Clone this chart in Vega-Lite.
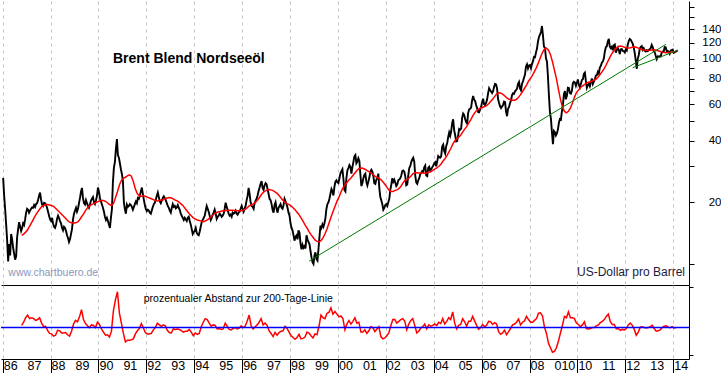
{
"$schema":"https://vega.github.io/schema/vega-lite/v6.json",
"padding":0,
"autosize":{"type":"pad"},
"background":"white",
"spacing":0,
"bounds":"flush",
"config":{"view":{"stroke":null},"font":"Liberation Sans","axis":{"labelFont":"Liberation Sans"}},
"resolve":{"scale":{"x":"independent","y":"independent"}},
"datasets":{
"price":[
{"t":1986.02,"v":26.3},{"t":1986.062,"v":21.5},{"t":1986.103,"v":18.5},{"t":1986.145,"v":15.6},{"t":1986.187,"v":13.0},{"t":1986.229,"v":10.3},{"t":1986.27,"v":12.5},{"t":1986.312,"v":11.0},{"t":1986.353,"v":14.0},{"t":1986.395,"v":13.2},{"t":1986.437,"v":12.0},{"t":1986.479,"v":11.2},{"t":1986.52,"v":10.5},{"t":1986.562,"v":10.9},{"t":1986.603,"v":13.5},{"t":1986.645,"v":14.8},{"t":1986.687,"v":16.0},{"t":1986.729,"v":15.2},{"t":1986.77,"v":14.5},{"t":1986.812,"v":15.0},{"t":1986.853,"v":15.8},{"t":1986.895,"v":15.5},{"t":1986.937,"v":16.5},{"t":1986.979,"v":17.8},
{"t":1987.02,"v":18.6},{"t":1987.062,"v":18.4},{"t":1987.103,"v":17.8},{"t":1987.145,"v":18.2},{"t":1987.187,"v":18.6},{"t":1987.229,"v":18.9},{"t":1987.27,"v":18.8},{"t":1987.312,"v":19.4},{"t":1987.353,"v":19.0},{"t":1987.395,"v":19.6},{"t":1987.437,"v":19.8},{"t":1987.479,"v":20.6},{"t":1987.52,"v":21.5},{"t":1987.562,"v":22.3},{"t":1987.603,"v":20.6},{"t":1987.645,"v":19.5},{"t":1987.687,"v":19.2},{"t":1987.729,"v":19.9},{"t":1987.77,"v":19.8},{"t":1987.812,"v":19.4},{"t":1987.853,"v":18.8},{"t":1987.895,"v":18.0},{"t":1987.937,"v":17.2},{"t":1987.979,"v":16.5},
{"t":1988.02,"v":16.2},{"t":1988.062,"v":16.8},{"t":1988.103,"v":15.8},{"t":1988.145,"v":15.2},{"t":1988.187,"v":15.0},{"t":1988.229,"v":15.6},{"t":1988.27,"v":16.6},{"t":1988.312,"v":17.2},{"t":1988.353,"v":16.8},{"t":1988.395,"v":16.2},{"t":1988.437,"v":15.8},{"t":1988.479,"v":15.0},{"t":1988.52,"v":14.6},{"t":1988.562,"v":15.2},{"t":1988.603,"v":15.0},{"t":1988.645,"v":14.5},{"t":1988.687,"v":13.8},{"t":1988.729,"v":13.4},{"t":1988.77,"v":12.8},{"t":1988.812,"v":13.2},{"t":1988.853,"v":14.0},{"t":1988.895,"v":14.8},{"t":1988.937,"v":16.5},{"t":1988.979,"v":17.6},
{"t":1989.02,"v":18.2},{"t":1989.062,"v":18.8},{"t":1989.103,"v":18.0},{"t":1989.145,"v":18.6},{"t":1989.187,"v":19.8},{"t":1989.229,"v":21.0},{"t":1989.27,"v":22.5},{"t":1989.312,"v":23.5},{"t":1989.353,"v":21.0},{"t":1989.395,"v":19.8},{"t":1989.437,"v":19.5},{"t":1989.479,"v":20.5},{"t":1989.52,"v":19.8},{"t":1989.562,"v":19.2},{"t":1989.603,"v":18.8},{"t":1989.645,"v":19.5},{"t":1989.687,"v":20.4},{"t":1989.729,"v":20.8},{"t":1989.77,"v":21.2},{"t":1989.812,"v":20.0},{"t":1989.853,"v":19.6},{"t":1989.895,"v":20.4},{"t":1989.937,"v":21.5},{"t":1989.979,"v":23.6},
{"t":1990.02,"v":22.5},{"t":1990.062,"v":21.0},{"t":1990.103,"v":20.2},{"t":1990.145,"v":19.5},{"t":1990.187,"v":18.8},{"t":1990.229,"v":18.0},{"t":1990.27,"v":17.0},{"t":1990.312,"v":16.4},{"t":1990.353,"v":16.8},{"t":1990.395,"v":16.2},{"t":1990.437,"v":15.6},{"t":1990.479,"v":15.0},{"t":1990.52,"v":16.8},{"t":1990.562,"v":18.5},{"t":1990.603,"v":25.0},{"t":1990.645,"v":29.5},{"t":1990.687,"v":31.5},{"t":1990.729,"v":36.5},{"t":1990.77,"v":40.7},{"t":1990.812,"v":34.0},{"t":1990.853,"v":33.0},{"t":1990.895,"v":31.0},{"t":1990.937,"v":29.0},{"t":1990.979,"v":27.5},
{"t":1991.02,"v":25.5},{"t":1991.062,"v":20.0},{"t":1991.103,"v":18.5},{"t":1991.145,"v":17.6},{"t":1991.187,"v":19.5},{"t":1991.229,"v":19.0},{"t":1991.27,"v":19.2},{"t":1991.312,"v":19.6},{"t":1991.353,"v":19.4},{"t":1991.395,"v":19.0},{"t":1991.437,"v":18.4},{"t":1991.479,"v":19.0},{"t":1991.52,"v":19.6},{"t":1991.562,"v":20.2},{"t":1991.603,"v":19.8},{"t":1991.645,"v":21.0},{"t":1991.687,"v":20.8},{"t":1991.729,"v":21.5},{"t":1991.77,"v":22.6},{"t":1991.812,"v":23.6},{"t":1991.853,"v":22.0},{"t":1991.895,"v":20.6},{"t":1991.937,"v":19.4},{"t":1991.979,"v":18.5},
{"t":1992.02,"v":18.1},{"t":1992.062,"v":18.4},{"t":1992.103,"v":18.2},{"t":1992.145,"v":17.8},{"t":1992.187,"v":17.6},{"t":1992.229,"v":18.3},{"t":1992.27,"v":19.0},{"t":1992.312,"v":19.6},{"t":1992.353,"v":19.9},{"t":1992.395,"v":20.6},{"t":1992.437,"v":21.5},{"t":1992.479,"v":22.3},{"t":1992.52,"v":21.2},{"t":1992.562,"v":20.2},{"t":1992.603,"v":19.8},{"t":1992.645,"v":20.4},{"t":1992.687,"v":21.0},{"t":1992.729,"v":21.4},{"t":1992.77,"v":21.0},{"t":1992.812,"v":20.5},{"t":1992.853,"v":19.8},{"t":1992.895,"v":19.2},{"t":1992.937,"v":18.8},{"t":1992.979,"v":18.2},
{"t":1993.02,"v":17.8},{"t":1993.062,"v":18.8},{"t":1993.103,"v":19.6},{"t":1993.145,"v":19.0},{"t":1993.187,"v":19.2},{"t":1993.229,"v":18.7},{"t":1993.27,"v":18.9},{"t":1993.312,"v":19.4},{"t":1993.353,"v":18.8},{"t":1993.395,"v":18.4},{"t":1993.437,"v":17.6},{"t":1993.479,"v":17.2},{"t":1993.52,"v":16.8},{"t":1993.562,"v":16.4},{"t":1993.603,"v":16.8},{"t":1993.645,"v":16.5},{"t":1993.687,"v":16.2},{"t":1993.729,"v":16.8},{"t":1993.77,"v":17.0},{"t":1993.812,"v":16.2},{"t":1993.853,"v":15.6},{"t":1993.895,"v":14.8},{"t":1993.937,"v":14.0},{"t":1993.979,"v":14.3},
{"t":1994.02,"v":14.5},{"t":1994.062,"v":15.0},{"t":1994.103,"v":14.2},{"t":1994.145,"v":13.9},{"t":1994.187,"v":13.8},{"t":1994.229,"v":14.4},{"t":1994.27,"v":15.2},{"t":1994.312,"v":16.0},{"t":1994.353,"v":16.4},{"t":1994.395,"v":16.8},{"t":1994.437,"v":17.2},{"t":1994.479,"v":18.2},{"t":1994.52,"v":19.2},{"t":1994.562,"v":18.6},{"t":1994.603,"v":18.0},{"t":1994.645,"v":17.2},{"t":1994.687,"v":16.4},{"t":1994.729,"v":16.8},{"t":1994.77,"v":17.4},{"t":1994.812,"v":17.8},{"t":1994.853,"v":18.4},{"t":1994.895,"v":17.6},{"t":1994.937,"v":16.6},{"t":1994.979,"v":17.0},
{"t":1995.02,"v":17.2},{"t":1995.062,"v":17.6},{"t":1995.103,"v":17.4},{"t":1995.145,"v":17.0},{"t":1995.187,"v":17.2},{"t":1995.229,"v":17.6},{"t":1995.27,"v":18.6},{"t":1995.312,"v":19.9},{"t":1995.353,"v":19.0},{"t":1995.395,"v":18.4},{"t":1995.437,"v":17.6},{"t":1995.479,"v":17.2},{"t":1995.52,"v":17.4},{"t":1995.562,"v":17.0},{"t":1995.603,"v":17.8},{"t":1995.645,"v":17.6},{"t":1995.687,"v":17.8},{"t":1995.729,"v":18.2},{"t":1995.77,"v":17.6},{"t":1995.812,"v":17.4},{"t":1995.853,"v":17.8},{"t":1995.895,"v":18.0},{"t":1995.937,"v":18.6},{"t":1995.979,"v":19.2},
{"t":1996.02,"v":18.6},{"t":1996.062,"v":18.0},{"t":1996.103,"v":18.6},{"t":1996.145,"v":19.2},{"t":1996.187,"v":20.5},{"t":1996.229,"v":21.5},{"t":1996.27,"v":23.5},{"t":1996.312,"v":22.0},{"t":1996.353,"v":20.0},{"t":1996.395,"v":19.2},{"t":1996.437,"v":19.0},{"t":1996.479,"v":18.6},{"t":1996.52,"v":19.8},{"t":1996.562,"v":20.4},{"t":1996.603,"v":20.8},{"t":1996.645,"v":21.6},{"t":1996.687,"v":22.7},{"t":1996.729,"v":23.6},{"t":1996.77,"v":24.6},{"t":1996.812,"v":25.4},{"t":1996.853,"v":23.5},{"t":1996.895,"v":23.0},{"t":1996.937,"v":24.2},{"t":1996.979,"v":24.8},
{"t":1997.02,"v":24.5},{"t":1997.062,"v":23.2},{"t":1997.103,"v":22.0},{"t":1997.145,"v":20.8},{"t":1997.187,"v":20.5},{"t":1997.229,"v":19.6},{"t":1997.27,"v":18.4},{"t":1997.312,"v":17.8},{"t":1997.353,"v":19.4},{"t":1997.395,"v":20.0},{"t":1997.437,"v":18.6},{"t":1997.479,"v":17.8},{"t":1997.52,"v":18.8},{"t":1997.562,"v":19.2},{"t":1997.603,"v":19.6},{"t":1997.645,"v":18.8},{"t":1997.687,"v":18.6},{"t":1997.729,"v":19.4},{"t":1997.77,"v":20.8},{"t":1997.812,"v":20.2},{"t":1997.853,"v":19.6},{"t":1997.895,"v":18.8},{"t":1997.937,"v":17.8},{"t":1997.979,"v":17.2},
{"t":1998.02,"v":15.8},{"t":1998.062,"v":15.0},{"t":1998.103,"v":14.6},{"t":1998.145,"v":13.8},{"t":1998.187,"v":13.0},{"t":1998.229,"v":13.6},{"t":1998.27,"v":13.8},{"t":1998.312,"v":13.2},{"t":1998.353,"v":14.6},{"t":1998.395,"v":14.2},{"t":1998.437,"v":12.6},{"t":1998.479,"v":11.8},{"t":1998.52,"v":12.4},{"t":1998.562,"v":12.0},{"t":1998.603,"v":12.2},{"t":1998.645,"v":11.9},{"t":1998.687,"v":13.8},{"t":1998.729,"v":13.2},{"t":1998.77,"v":12.8},{"t":1998.812,"v":12.5},{"t":1998.853,"v":11.6},{"t":1998.895,"v":10.8},{"t":1998.937,"v":10.2},{"t":1998.979,"v":10.0},
{"t":1999.02,"v":11.0},{"t":1999.062,"v":11.4},{"t":1999.103,"v":10.6},{"t":1999.145,"v":10.4},{"t":1999.187,"v":11.8},{"t":1999.229,"v":13.6},{"t":1999.27,"v":15.4},{"t":1999.312,"v":15.0},{"t":1999.353,"v":15.6},{"t":1999.395,"v":15.2},{"t":1999.437,"v":15.8},{"t":1999.479,"v":16.8},{"t":1999.52,"v":18.6},{"t":1999.562,"v":19.6},{"t":1999.603,"v":20.0},{"t":1999.645,"v":20.8},{"t":1999.687,"v":22.0},{"t":1999.729,"v":23.2},{"t":1999.77,"v":22.6},{"t":1999.812,"v":21.6},{"t":1999.853,"v":23.8},{"t":1999.895,"v":25.2},{"t":1999.937,"v":25.6},{"t":1999.979,"v":25.0},
{"t":2000.02,"v":24.8},{"t":2000.062,"v":26.2},{"t":2000.103,"v":27.6},{"t":2000.145,"v":28.4},{"t":2000.187,"v":29.0},{"t":2000.229,"v":26.0},{"t":2000.27,"v":23.0},{"t":2000.312,"v":22.6},{"t":2000.353,"v":26.2},{"t":2000.395,"v":28.6},{"t":2000.437,"v":29.4},{"t":2000.479,"v":30.4},{"t":2000.52,"v":29.8},{"t":2000.562,"v":27.6},{"t":2000.603,"v":29.6},{"t":2000.645,"v":31.4},{"t":2000.687,"v":33.5},{"t":2000.729,"v":34.0},{"t":2000.77,"v":31.0},{"t":2000.812,"v":31.6},{"t":2000.853,"v":32.8},{"t":2000.895,"v":31.8},{"t":2000.937,"v":27.4},{"t":2000.979,"v":24.0},
{"t":2001.02,"v":24.8},{"t":2001.062,"v":26.2},{"t":2001.103,"v":27.2},{"t":2001.145,"v":27.6},{"t":2001.187,"v":25.2},{"t":2001.229,"v":24.2},{"t":2001.27,"v":25.2},{"t":2001.312,"v":26.4},{"t":2001.353,"v":28.2},{"t":2001.395,"v":28.8},{"t":2001.437,"v":28.2},{"t":2001.479,"v":26.8},{"t":2001.52,"v":24.8},{"t":2001.562,"v":24.6},{"t":2001.603,"v":25.8},{"t":2001.645,"v":26.2},{"t":2001.687,"v":27.6},{"t":2001.729,"v":23.4},{"t":2001.77,"v":21.2},{"t":2001.812,"v":20.4},{"t":2001.853,"v":19.6},{"t":2001.895,"v":18.4},{"t":2001.937,"v":18.8},{"t":2001.979,"v":19.4},
{"t":2002.02,"v":19.6},{"t":2002.062,"v":19.2},{"t":2002.103,"v":20.0},{"t":2002.145,"v":20.8},{"t":2002.187,"v":23.0},{"t":2002.229,"v":24.4},{"t":2002.27,"v":26.2},{"t":2002.312,"v":25.2},{"t":2002.353,"v":25.8},{"t":2002.395,"v":25.0},{"t":2002.437,"v":24.0},{"t":2002.479,"v":24.4},{"t":2002.52,"v":25.6},{"t":2002.562,"v":25.8},{"t":2002.603,"v":26.2},{"t":2002.645,"v":27.0},{"t":2002.687,"v":28.4},{"t":2002.729,"v":28.6},{"t":2002.77,"v":28.2},{"t":2002.812,"v":26.8},{"t":2002.853,"v":24.2},{"t":2002.895,"v":24.4},{"t":2002.937,"v":27.0},{"t":2002.979,"v":29.4},
{"t":2003.02,"v":30.0},{"t":2003.062,"v":31.4},{"t":2003.103,"v":32.4},{"t":2003.145,"v":33.0},{"t":2003.187,"v":31.6},{"t":2003.229,"v":27.0},{"t":2003.27,"v":25.0},{"t":2003.312,"v":24.6},{"t":2003.353,"v":25.6},{"t":2003.395,"v":26.2},{"t":2003.437,"v":27.4},{"t":2003.479,"v":27.8},{"t":2003.52,"v":28.4},{"t":2003.562,"v":28.2},{"t":2003.603,"v":29.6},{"t":2003.645,"v":30.2},{"t":2003.687,"v":27.0},{"t":2003.729,"v":26.8},{"t":2003.77,"v":29.4},{"t":2003.812,"v":29.8},{"t":2003.853,"v":28.6},{"t":2003.895,"v":29.0},{"t":2003.937,"v":29.6},{"t":2003.979,"v":30.2},
{"t":2004.02,"v":31.0},{"t":2004.062,"v":31.4},{"t":2004.103,"v":30.0},{"t":2004.145,"v":31.6},{"t":2004.187,"v":33.6},{"t":2004.229,"v":33.2},{"t":2004.27,"v":33.0},{"t":2004.312,"v":33.6},{"t":2004.353,"v":37.4},{"t":2004.395,"v":38.2},{"t":2004.437,"v":35.6},{"t":2004.479,"v":34.6},{"t":2004.52,"v":37.6},{"t":2004.562,"v":38.8},{"t":2004.603,"v":41.6},{"t":2004.645,"v":43.8},{"t":2004.687,"v":42.2},{"t":2004.729,"v":44.4},{"t":2004.77,"v":48.6},{"t":2004.812,"v":50.8},{"t":2004.853,"v":45.0},{"t":2004.895,"v":42.6},{"t":2004.937,"v":39.6},{"t":2004.979,"v":39.8},
{"t":2005.02,"v":42.4},{"t":2005.062,"v":45.6},{"t":2005.103,"v":45.2},{"t":2005.145,"v":45.8},{"t":2005.187,"v":51.6},{"t":2005.229,"v":54.2},{"t":2005.27,"v":53.4},{"t":2005.312,"v":51.0},{"t":2005.353,"v":49.2},{"t":2005.395,"v":48.4},{"t":2005.437,"v":54.4},{"t":2005.479,"v":56.8},{"t":2005.52,"v":57.2},{"t":2005.562,"v":58.0},{"t":2005.603,"v":62.8},{"t":2005.645,"v":66.0},{"t":2005.687,"v":63.2},{"t":2005.729,"v":62.4},{"t":2005.77,"v":59.6},{"t":2005.812,"v":57.6},{"t":2005.853,"v":55.2},{"t":2005.895,"v":55.0},{"t":2005.937,"v":56.6},{"t":2005.979,"v":58.4},
{"t":2006.02,"v":61.6},{"t":2006.062,"v":64.0},{"t":2006.103,"v":60.2},{"t":2006.145,"v":59.6},{"t":2006.187,"v":61.0},{"t":2006.229,"v":63.4},{"t":2006.27,"v":68.0},{"t":2006.312,"v":72.0},{"t":2006.353,"v":70.6},{"t":2006.395,"v":69.4},{"t":2006.437,"v":68.2},{"t":2006.479,"v":69.6},{"t":2006.52,"v":73.0},{"t":2006.562,"v":75.6},{"t":2006.603,"v":75.2},{"t":2006.645,"v":71.8},{"t":2006.687,"v":63.8},{"t":2006.729,"v":61.0},{"t":2006.77,"v":58.8},{"t":2006.812,"v":57.6},{"t":2006.853,"v":58.6},{"t":2006.895,"v":59.6},{"t":2006.937,"v":62.0},{"t":2006.979,"v":61.6},
{"t":2007.02,"v":55.4},{"t":2007.062,"v":52.6},{"t":2007.103,"v":57.2},{"t":2007.145,"v":58.4},{"t":2007.187,"v":61.0},{"t":2007.229,"v":62.8},{"t":2007.27,"v":66.6},{"t":2007.312,"v":68.0},{"t":2007.353,"v":67.6},{"t":2007.395,"v":69.6},{"t":2007.437,"v":70.4},{"t":2007.479,"v":71.6},{"t":2007.52,"v":75.6},{"t":2007.562,"v":77.2},{"t":2007.603,"v":71.8},{"t":2007.645,"v":70.2},{"t":2007.687,"v":75.8},{"t":2007.729,"v":78.0},{"t":2007.77,"v":81.0},{"t":2007.812,"v":84.0},{"t":2007.853,"v":92.0},{"t":2007.895,"v":94.2},{"t":2007.937,"v":90.0},{"t":2007.979,"v":93.0},
{"t":2008.02,"v":93.4},{"t":2008.062,"v":90.0},{"t":2008.103,"v":94.4},{"t":2008.145,"v":97.6},{"t":2008.187,"v":102.4},{"t":2008.229,"v":102.0},{"t":2008.27,"v":107.4},{"t":2008.312,"v":112.4},{"t":2008.353,"v":121.6},{"t":2008.395,"v":128.0},{"t":2008.437,"v":131.6},{"t":2008.479,"v":135.4},{"t":2008.52,"v":144.8},{"t":2008.562,"v":130.0},{"t":2008.603,"v":115.0},{"t":2008.645,"v":113.4},{"t":2008.687,"v":101.0},{"t":2008.729,"v":97.0},{"t":2008.77,"v":82.0},{"t":2008.812,"v":66.0},{"t":2008.853,"v":55.0},{"t":2008.895,"v":51.0},{"t":2008.937,"v":44.0},{"t":2008.979,"v":38.4},
{"t":2009.02,"v":44.6},{"t":2009.062,"v":44.0},{"t":2009.103,"v":42.4},{"t":2009.145,"v":43.4},{"t":2009.187,"v":45.4},{"t":2009.229,"v":49.0},{"t":2009.27,"v":51.0},{"t":2009.312,"v":50.6},{"t":2009.353,"v":55.6},{"t":2009.395,"v":59.6},{"t":2009.437,"v":67.6},{"t":2009.479,"v":69.8},{"t":2009.52,"v":63.6},{"t":2009.562,"v":66.4},{"t":2009.603,"v":72.4},{"t":2009.645,"v":72.2},{"t":2009.687,"v":68.2},{"t":2009.729,"v":67.8},{"t":2009.77,"v":70.0},{"t":2009.812,"v":76.2},{"t":2009.853,"v":77.4},{"t":2009.895,"v":76.8},{"t":2009.937,"v":74.0},{"t":2009.979,"v":76.6},
{"t":2010.02,"v":79.4},{"t":2010.062,"v":74.8},{"t":2010.103,"v":72.6},{"t":2010.145,"v":75.6},{"t":2010.187,"v":79.0},{"t":2010.229,"v":79.6},{"t":2010.27,"v":84.6},{"t":2010.312,"v":85.8},{"t":2010.353,"v":78.2},{"t":2010.395,"v":72.4},{"t":2010.437,"v":74.6},{"t":2010.479,"v":75.8},{"t":2010.52,"v":73.6},{"t":2010.562,"v":77.0},{"t":2010.603,"v":80.4},{"t":2010.645,"v":75.6},{"t":2010.687,"v":77.6},{"t":2010.729,"v":79.8},{"t":2010.77,"v":83.0},{"t":2010.812,"v":83.4},{"t":2010.853,"v":86.6},{"t":2010.895,"v":85.0},{"t":2010.937,"v":90.8},{"t":2010.979,"v":92.6},
{"t":2011.02,"v":96.0},{"t":2011.062,"v":97.2},{"t":2011.103,"v":100.4},{"t":2011.145,"v":108.6},{"t":2011.187,"v":114.0},{"t":2011.229,"v":115.4},{"t":2011.27,"v":121.6},{"t":2011.312,"v":125.4},{"t":2011.353,"v":115.0},{"t":2011.395,"v":112.8},{"t":2011.437,"v":114.8},{"t":2011.479,"v":110.2},{"t":2011.52,"v":116.6},{"t":2011.562,"v":117.6},{"t":2011.603,"v":107.4},{"t":2011.645,"v":110.8},{"t":2011.687,"v":113.4},{"t":2011.729,"v":110.2},{"t":2011.77,"v":105.6},{"t":2011.812,"v":111.6},{"t":2011.853,"v":111.8},{"t":2011.895,"v":109.4},{"t":2011.937,"v":109.2},{"t":2011.979,"v":107.6},
{"t":2012.02,"v":111.2},{"t":2012.062,"v":110.0},{"t":2012.103,"v":117.4},{"t":2012.145,"v":122.6},{"t":2012.187,"v":125.2},{"t":2012.229,"v":124.0},{"t":2012.27,"v":121.2},{"t":2012.312,"v":118.4},{"t":2012.353,"v":113.4},{"t":2012.395,"v":106.8},{"t":2012.437,"v":98.2},{"t":2012.479,"v":89.6},{"t":2012.52,"v":100.2},{"t":2012.562,"v":104.6},{"t":2012.603,"v":112.0},{"t":2012.645,"v":114.6},{"t":2012.687,"v":115.6},{"t":2012.729,"v":111.0},{"t":2012.77,"v":112.8},{"t":2012.812,"v":109.6},{"t":2012.853,"v":108.8},{"t":2012.895,"v":110.4},{"t":2012.937,"v":109.2},{"t":2012.979,"v":110.6},
{"t":2013.02,"v":111.6},{"t":2013.062,"v":113.0},{"t":2013.103,"v":117.2},{"t":2013.145,"v":114.4},{"t":2013.187,"v":109.2},{"t":2013.229,"v":108.0},{"t":2013.27,"v":103.6},{"t":2013.312,"v":100.0},{"t":2013.353,"v":103.0},{"t":2013.395,"v":102.6},{"t":2013.437,"v":103.2},{"t":2013.479,"v":103.0},{"t":2013.52,"v":107.2},{"t":2013.562,"v":108.6},{"t":2013.603,"v":108.8},{"t":2013.645,"v":114.2},{"t":2013.687,"v":114.0},{"t":2013.729,"v":109.0},{"t":2013.77,"v":109.6},{"t":2013.812,"v":108.4},{"t":2013.853,"v":106.0},{"t":2013.895,"v":109.8},{"t":2013.937,"v":110.6},{"t":2013.979,"v":111.2},
{"t":2014.02,"v":107.2},{"t":2014.062,"v":107.8},{"t":2014.103,"v":108.4},{"t":2014.145,"v":109.4},{"t":2014.187,"v":110.2}
],
"monthly":[
{"t":1986.792,"m":13.8,"d":5},{"t":1986.875,"m":14.0,"d":12},{"t":1986.958,"m":14.3,"d":22},
{"t":1987.042,"m":14.7,"d":28},{"t":1987.125,"m":15.3,"d":20},{"t":1987.208,"m":15.9,"d":22},{"t":1987.292,"m":16.6,"d":20},{"t":1987.375,"m":17.3,"d":16},{"t":1987.458,"m":17.9,"d":18},{"t":1987.542,"m":18.5,"d":22},{"t":1987.625,"m":19.0,"d":10},{"t":1987.708,"m":19.3,"d":2},{"t":1987.792,"m":19.5,"d":3},{"t":1987.875,"m":19.5,"d":-6},{"t":1987.958,"m":19.4,"d":-13},
{"t":1988.042,"m":19.3,"d":-14},{"t":1988.125,"m":19.1,"d":-19},{"t":1988.208,"m":18.7,"d":-17},{"t":1988.292,"m":18.3,"d":-6},{"t":1988.375,"m":17.9,"d":-7},{"t":1988.458,"m":17.5,"d":-12},{"t":1988.542,"m":17.1,"d":-12},{"t":1988.625,"m":16.7,"d":-11},{"t":1988.708,"m":16.3,"d":-16},{"t":1988.792,"m":16.0,"d":-19},{"t":1988.875,"m":15.9,"d":-8},{"t":1988.958,"m":15.8,"d":8},
{"t":1989.042,"m":15.9,"d":16},{"t":1989.125,"m":16.0,"d":13},{"t":1989.208,"m":16.4,"d":24},{"t":1989.292,"m":17.0,"d":40},{"t":1989.375,"m":17.5,"d":18},{"t":1989.458,"m":18.2,"d":9},{"t":1989.542,"m":18.8,"d":4},{"t":1989.625,"m":19.2,"d":0},{"t":1989.708,"m":19.5,"d":6},{"t":1989.792,"m":19.7,"d":5},{"t":1989.875,"m":19.9,"d":0},{"t":1989.958,"m":20.1,"d":12},
{"t":1990.042,"m":20.3,"d":7},{"t":1990.125,"m":20.4,"d":-3},{"t":1990.208,"m":20.4,"d":-10},{"t":1990.292,"m":20.2,"d":-17},{"t":1990.375,"m":19.9,"d":-16},{"t":1990.458,"m":19.5,"d":-21},{"t":1990.542,"m":19.3,"d":-8},{"t":1990.625,"m":19.7,"d":38},{"t":1990.708,"m":21.0,"d":62},{"t":1990.792,"m":22.5,"d":80},{"t":1990.875,"m":24.3,"d":32},{"t":1990.958,"m":25.6,"d":10},
{"t":1991.042,"m":26.2,"d":-13},{"t":1991.125,"m":26.5,"d":-32},{"t":1991.208,"m":26.9,"d":-28},{"t":1991.292,"m":27.2,"d":-28},{"t":1991.375,"m":26.8,"d":-27},{"t":1991.458,"m":25.2,"d":-25},{"t":1991.542,"m":23.2,"d":-14},{"t":1991.625,"m":22.0,"d":-7},{"t":1991.708,"m":21.5,"d":-2},{"t":1991.792,"m":21.4,"d":9},{"t":1991.875,"m":21.5,"d":-1},{"t":1991.958,"m":21.4,"d":-11},
{"t":1992.042,"m":21.2,"d":-14},{"t":1992.125,"m":21.0,"d":-14},{"t":1992.208,"m":20.8,"d":-13},{"t":1992.292,"m":20.6,"d":-5},{"t":1992.375,"m":20.4,"d":0},{"t":1992.458,"m":20.3,"d":10},{"t":1992.542,"m":20.4,"d":6},{"t":1992.625,"m":20.5,"d":3},{"t":1992.708,"m":20.6,"d":6},{"t":1992.792,"m":20.8,"d":4},{"t":1992.875,"m":21.0,"d":-6},{"t":1992.958,"m":21.1,"d":-11},
{"t":1993.042,"m":21.0,"d":-12},{"t":1993.125,"m":20.8,"d":-3},{"t":1993.208,"m":20.5,"d":-4},{"t":1993.292,"m":20.3,"d":-3},{"t":1993.375,"m":20.0,"d":-4},{"t":1993.458,"m":19.6,"d":-7},{"t":1993.542,"m":19.2,"d":-10},{"t":1993.625,"m":18.6,"d":-8},{"t":1993.708,"m":18.1,"d":-8},{"t":1993.792,"m":17.6,"d":-4},{"t":1993.875,"m":17.2,"d":-10},{"t":1993.958,"m":16.8,"d":-18},
{"t":1994.042,"m":16.6,"d":-12},{"t":1994.125,"m":16.4,"d":-15},{"t":1994.208,"m":16.3,"d":-13},{"t":1994.292,"m":16.2,"d":2},{"t":1994.375,"m":16.1,"d":12},{"t":1994.458,"m":16.2,"d":20},{"t":1994.542,"m":16.4,"d":18},{"t":1994.625,"m":16.7,"d":10},{"t":1994.708,"m":17.0,"d":3},{"t":1994.792,"m":17.4,"d":6},{"t":1994.875,"m":17.7,"d":5},{"t":1994.958,"m":17.9,"d":-3},
{"t":1995.042,"m":18.0,"d":-2},{"t":1995.125,"m":18.1,"d":-4},{"t":1995.208,"m":18.2,"d":-3},{"t":1995.292,"m":18.2,"d":10},{"t":1995.375,"m":18.3,"d":3},{"t":1995.458,"m":18.3,"d":-4},{"t":1995.542,"m":18.3,"d":-5},{"t":1995.625,"m":18.3,"d":-2},{"t":1995.708,"m":18.2,"d":0},{"t":1995.792,"m":18.2,"d":-3},{"t":1995.875,"m":18.2,"d":-1},{"t":1995.958,"m":18.2,"d":4},
{"t":1996.042,"m":18.3,"d":0},{"t":1996.125,"m":18.5,"d":3},{"t":1996.208,"m":18.8,"d":14},{"t":1996.292,"m":19.2,"d":28},{"t":1996.375,"m":19.4,"d":4},{"t":1996.458,"m":19.6,"d":-3},{"t":1996.542,"m":19.9,"d":2},{"t":1996.625,"m":20.4,"d":6},{"t":1996.708,"m":21.0,"d":12},{"t":1996.792,"m":21.7,"d":20},{"t":1996.875,"m":22.3,"d":6},{"t":1996.958,"m":22.7,"d":10},
{"t":1997.042,"m":23.0,"d":5},{"t":1997.125,"m":23.1,"d":-7},{"t":1997.208,"m":23.0,"d":-13},{"t":1997.292,"m":22.8,"d":-20},{"t":1997.375,"m":22.5,"d":-11},{"t":1997.458,"m":22.1,"d":-17},{"t":1997.542,"m":21.6,"d":-11},{"t":1997.625,"m":21.0,"d":-8},{"t":1997.708,"m":20.4,"d":-7},{"t":1997.792,"m":20.0,"d":3},{"t":1997.875,"m":19.7,"d":-2},{"t":1997.958,"m":19.5,"d":-10},
{"t":1998.042,"m":19.2,"d":-18},{"t":1998.125,"m":18.8,"d":-22},{"t":1998.208,"m":18.4,"d":-26},{"t":1998.292,"m":17.9,"d":-22},{"t":1998.375,"m":17.4,"d":-15},{"t":1998.458,"m":16.8,"d":-25},{"t":1998.542,"m":16.2,"d":-24},{"t":1998.625,"m":15.5,"d":-21},{"t":1998.708,"m":15.0,"d":-10},{"t":1998.792,"m":14.4,"d":-12},{"t":1998.875,"m":13.9,"d":-18},{"t":1998.958,"m":13.5,"d":-23},
{"t":1999.042,"m":13.1,"d":-14},{"t":1999.125,"m":12.9,"d":-16},{"t":1999.208,"m":12.8,"d":3},{"t":1999.292,"m":13.0,"d":28},{"t":1999.375,"m":13.4,"d":22},{"t":1999.458,"m":14.0,"d":20},{"t":1999.542,"m":14.8,"d":32},{"t":1999.625,"m":15.8,"d":34},{"t":1999.708,"m":16.9,"d":44},{"t":1999.792,"m":18.0,"d":30},{"t":1999.875,"m":19.1,"d":36},{"t":1999.958,"m":20.2,"d":30},
{"t":2000.042,"m":21.2,"d":24},{"t":2000.125,"m":22.4,"d":26},{"t":2000.208,"m":23.5,"d":20},{"t":2000.292,"m":24.3,"d":-5},{"t":2000.375,"m":25.0,"d":8},{"t":2000.458,"m":25.7,"d":16},{"t":2000.542,"m":26.3,"d":8},{"t":2000.625,"m":27.0,"d":14},{"t":2000.708,"m":27.8,"d":22},{"t":2000.792,"m":28.6,"d":10},{"t":2000.875,"m":29.2,"d":12},{"t":2000.958,"m":29.4,"d":-10},
{"t":2001.042,"m":29.3,"d":-10},{"t":2001.125,"m":29.0,"d":-5},{"t":2001.208,"m":28.6,"d":-13},{"t":2001.292,"m":28.2,"d":-7},{"t":2001.375,"m":27.8,"d":2},{"t":2001.458,"m":27.4,"d":0},{"t":2001.542,"m":26.8,"d":-9},{"t":2001.625,"m":26.4,"d":-3},{"t":2001.708,"m":26.2,"d":2},{"t":2001.792,"m":25.8,"d":-20},{"t":2001.875,"m":25.2,"d":-25},{"t":2001.958,"m":24.5,"d":-23},
{"t":2002.042,"m":23.7,"d":-18},{"t":2002.125,"m":23.0,"d":-12},{"t":2002.208,"m":22.6,"d":4},{"t":2002.292,"m":22.6,"d":18},{"t":2002.375,"m":22.8,"d":18},{"t":2002.458,"m":23.0,"d":10},{"t":2002.542,"m":23.3,"d":14},{"t":2002.625,"m":23.9,"d":18},{"t":2002.708,"m":24.8,"d":20},{"t":2002.792,"m":25.5,"d":14},{"t":2002.875,"m":25.8,"d":-5},{"t":2002.958,"m":26.2,"d":8},
{"t":2003.042,"m":26.8,"d":16},{"t":2003.125,"m":27.5,"d":20},{"t":2003.208,"m":27.9,"d":5},{"t":2003.292,"m":27.9,"d":-12},{"t":2003.375,"m":27.8,"d":-8},{"t":2003.458,"m":27.8,"d":-1},{"t":2003.542,"m":27.8,"d":2},{"t":2003.625,"m":27.7,"d":8},{"t":2003.708,"m":27.8,"d":-3},{"t":2003.792,"m":28.0,"d":6},{"t":2003.875,"m":28.2,"d":3},{"t":2003.958,"m":28.6,"d":5},
{"t":2004.042,"m":29.0,"d":8},{"t":2004.125,"m":29.4,"d":5},{"t":2004.208,"m":29.9,"d":12},{"t":2004.292,"m":30.6,"d":9},{"t":2004.375,"m":31.6,"d":20},{"t":2004.458,"m":32.5,"d":8},{"t":2004.542,"m":33.6,"d":14},{"t":2004.625,"m":35.0,"d":22},{"t":2004.708,"m":36.5,"d":18},{"t":2004.792,"m":38.3,"d":35},{"t":2004.875,"m":39.8,"d":10},{"t":2004.958,"m":40.8,"d":-3},
{"t":2005.042,"m":41.6,"d":5},{"t":2005.125,"m":42.5,"d":7},{"t":2005.208,"m":44.0,"d":20},{"t":2005.292,"m":45.5,"d":13},{"t":2005.375,"m":46.8,"d":3},{"t":2005.458,"m":48.6,"d":14},{"t":2005.542,"m":50.5,"d":14},{"t":2005.625,"m":52.6,"d":25},{"t":2005.708,"m":54.6,"d":15},{"t":2005.792,"m":56.0,"d":5},{"t":2005.875,"m":57.0,"d":-4},{"t":2005.958,"m":57.7,"d":0},
{"t":2006.042,"m":58.2,"d":7},{"t":2006.125,"m":58.6,"d":2},{"t":2006.208,"m":59.2,"d":5},{"t":2006.292,"m":60.5,"d":14},{"t":2006.375,"m":62.0,"d":13},{"t":2006.458,"m":63.6,"d":7},{"t":2006.542,"m":65.5,"d":11},{"t":2006.625,"m":67.4,"d":8},{"t":2006.708,"m":68.5,"d":-9},{"t":2006.792,"m":68.3,"d":-15},{"t":2006.875,"m":67.4,"d":-12},{"t":2006.958,"m":66.2,"d":-6},
{"t":2007.042,"m":64.8,"d":-16},{"t":2007.125,"m":63.8,"d":-9},{"t":2007.208,"m":63.2,"d":-2},{"t":2007.292,"m":63.0,"d":6},{"t":2007.375,"m":63.0,"d":8},{"t":2007.458,"m":63.6,"d":12},{"t":2007.542,"m":65.0,"d":19},{"t":2007.625,"m":67.0,"d":6},{"t":2007.708,"m":69.4,"d":12},{"t":2007.792,"m":72.0,"d":15},{"t":2007.875,"m":74.6,"d":25},{"t":2007.958,"m":78.0,"d":18},
{"t":2008.042,"m":80.5,"d":12},{"t":2008.125,"m":83.5,"d":12},{"t":2008.208,"m":87.0,"d":16},{"t":2008.292,"m":91.0,"d":20},{"t":2008.375,"m":96.0,"d":32},{"t":2008.458,"m":102.0,"d":33},{"t":2008.542,"m":107.5,"d":26},{"t":2008.625,"m":112.0,"d":1},{"t":2008.708,"m":113.0,"d":-13},{"t":2008.792,"m":110.5,"d":-35},{"t":2008.875,"m":105.0,"d":-45},{"t":2008.958,"m":97.0,"d":-55},
{"t":2009.042,"m":88.0,"d":-53},{"t":2009.125,"m":80.0,"d":-45},{"t":2009.208,"m":71.0,"d":-30},{"t":2009.292,"m":63.5,"d":-12},{"t":2009.375,"m":58.5,"d":5},{"t":2009.458,"m":55.5,"d":25},{"t":2009.542,"m":54.6,"d":22},{"t":2009.625,"m":55.6,"d":35},{"t":2009.708,"m":57.6,"d":22},{"t":2009.792,"m":61.0,"d":22},{"t":2009.875,"m":65.0,"d":20},{"t":2009.958,"m":68.6,"d":10},
{"t":2010.042,"m":70.5,"d":7},{"t":2010.125,"m":72.4,"d":2},{"t":2010.208,"m":73.8,"d":6},{"t":2010.292,"m":75.0,"d":13},{"t":2010.375,"m":76.2,"d":-2},{"t":2010.458,"m":77.0,"d":-3},{"t":2010.542,"m":77.4,"d":-2},{"t":2010.625,"m":78.2,"d":0},{"t":2010.708,"m":79.0,"d":0},{"t":2010.792,"m":80.0,"d":4},{"t":2010.875,"m":82.0,"d":6},{"t":2010.958,"m":84.5,"d":11},
{"t":2011.042,"m":87.0,"d":14},{"t":2011.125,"m":90.0,"d":18},{"t":2011.208,"m":94.0,"d":25},{"t":2011.292,"m":98.5,"d":30},{"t":2011.375,"m":103.0,"d":13},{"t":2011.458,"m":107.0,"d":7},{"t":2011.542,"m":110.5,"d":7},{"t":2011.625,"m":113.0,"d":-3},{"t":2011.708,"m":115.0,"d":-2},{"t":2011.792,"m":115.8,"d":-6},{"t":2011.875,"m":115.2,"d":-4},{"t":2011.958,"m":114.2,"d":-5},
{"t":2012.042,"m":113.4,"d":-2},{"t":2012.125,"m":113.0,"d":6},{"t":2012.208,"m":113.4,"d":10},{"t":2012.292,"m":114.0,"d":5},{"t":2012.375,"m":114.6,"d":-4},{"t":2012.458,"m":114.2,"d":-17},{"t":2012.542,"m":113.0,"d":-10},{"t":2012.625,"m":111.8,"d":1},{"t":2012.708,"m":111.0,"d":2},{"t":2012.792,"m":110.6,"d":0},{"t":2012.875,"m":110.2,"d":-1},{"t":2012.958,"m":110.0,"d":0},
{"t":2013.042,"m":110.2,"d":2},{"t":2013.125,"m":110.6,"d":5},{"t":2013.208,"m":110.8,"d":-2},{"t":2013.292,"m":110.4,"d":-8},{"t":2013.375,"m":109.6,"d":-7},{"t":2013.458,"m":108.8,"d":-5},{"t":2013.542,"m":108.0,"d":0},{"t":2013.625,"m":107.6,"d":3},{"t":2013.708,"m":107.4,"d":4},{"t":2013.792,"m":107.6,"d":1},{"t":2013.875,"m":107.8,"d":0},{"t":2013.958,"m":108.2,"d":2},
{"t":2014.042,"m":108.5,"d":-1},{"t":2014.125,"m":108.6,"d":0}
],
"trend":[
{"id":1,"t":1998.8,"v":10.34},{"id":1,"t":2013.7,"v":117.9},
{"id":2,"t":2012.31,"v":90.7},{"id":2,"t":2014.19,"v":110.3}
],
"years":[
{"yr":1986,"lab":"86"},{"yr":1987,"lab":"87"},{"yr":1988,"lab":"88"},{"yr":1989,"lab":"89"},{"yr":1990,"lab":"90"},{"yr":1991,"lab":"91"},{"yr":1992,"lab":"92"},{"yr":1993,"lab":"93"},{"yr":1994,"lab":"94"},{"yr":1995,"lab":"95"},{"yr":1996,"lab":"96"},{"yr":1997,"lab":"97"},{"yr":1998,"lab":"98"},{"yr":1999,"lab":"99"},{"yr":2000,"lab":"00"},{"yr":2001,"lab":"01"},{"yr":2002,"lab":"02"},{"yr":2003,"lab":"03"},{"yr":2004,"lab":"04"},{"yr":2005,"lab":"05"},{"yr":2006,"lab":"06"},{"yr":2007,"lab":"07"},{"yr":2008,"lab":"08"},{"yr":2009,"lab":"010"},{"yr":2010,"lab":"10"},{"yr":2011,"lab":"11"},{"yr":2012,"lab":"12"},{"yr":2013,"lab":"13"},{"yr":2014,"lab":"14"}
]
},
"vconcat":[
{"width":688,"height":284,
"layer":[
{"data":{"name":"price"},"mark":{"type":"line","color":"#000000","strokeWidth":1.9,"clip":true},
"encoding":{
"x":{"field":"t","type":"quantitative","scale":{"domain":[1985.93,2014.66],"nice":false,"zero":false},
"axis":{"orient":"bottom","values":[1986,1987,1988,1989,1990,1991,1992,1993,1994,1995,1996,1997,1998,1999,2000,2001,2002,2003,2004,2005,2006,2007,2008,2009,2010,2011,2012,2013,2014],"labels":false,"ticks":false,"domain":true,"domainColor":"#000000","domainWidth":1,"grid":true,"gridColor":"#c9bccd","gridDash":[3,4],"gridWidth":1,"title":null}},
"y":{"field":"v","type":"quantitative","scale":{"type":"log","domain":[7.9,191.8],"nice":false},
"axis":{"orient":"right","values":[10,20,30,40,50,60,70,80,90,100,120,140,160,180],"labelExpr":"(datum.value==20||datum.value==40||datum.value==60||datum.value==80||datum.value==100||datum.value==120||datum.value==140)?toString(datum.value):''","grid":false,"domain":true,"domainColor":"#000000","tickColor":"#000000","tickSize":5,"labelAlign":"right","labelPadding":27,"labelFontSize":11.5,"labelColor":"#000000","labelBaseline":"middle","labelFlush":false,"labelOverlap":false,"title":null}}
}},
{"data":{"name":"monthly"},"mark":{"type":"line","color":"#ff0000","strokeWidth":1.5},
"encoding":{"x":{"field":"t","type":"quantitative","title":null},"y":{"field":"m","type":"quantitative","title":null}}},
{"data":{"name":"trend"},"mark":{"type":"line","color":"#007a00","strokeWidth":1},
"encoding":{"x":{"field":"t","type":"quantitative","title":null},"y":{"field":"v","type":"quantitative","title":null},"detail":{"field":"id"}}},
{"data":{"values":[{}]},"mark":{"type":"text","text":"Brent Blend Nordseeöl","fontSize":14,"fontWeight":"bold","align":"left","baseline":"alphabetic","color":"#000000"},
"encoding":{"x":{"datum":1990.607,"type":"quantitative"},"y":{"datum":95.9,"type":"quantitative"}}},
{"data":{"values":[{}]},"mark":{"type":"text","text":"www.chartbuero.de","fontSize":10.5,"align":"left","baseline":"alphabetic","color":"#8797bd"},
"encoding":{"x":{"datum":1986.235,"type":"quantitative"},"y":{"datum":8.74,"type":"quantitative"}}},
{"data":{"values":[{}]},"mark":{"type":"text","text":"US-Dollar pro Barrel","fontSize":12,"align":"right","baseline":"alphabetic","color":"#1a1a40"},
"encoding":{"x":{"datum":2014.493,"type":"quantitative"},"y":{"datum":8.74,"type":"quantitative"}}}
]},
{"width":688,"height":74,
"layer":[
{"data":{"name":"monthly"},"mark":{"type":"line","color":"#ff0000","strokeWidth":1.5},
"encoding":{
"x":{"field":"t","type":"quantitative","scale":{"domain":[1985.93,2014.66],"nice":false,"zero":false},
"axis":{"orient":"bottom","values":[1986,1987,1988,1989,1990,1991,1992,1993,1994,1995,1996,1997,1998,1999,2000,2001,2002,2003,2004,2005,2006,2007,2008,2009,2010,2011,2012,2013,2014],"labels":false,"tickSize":15,"tickColor":"#000000","domainColor":"#000000","grid":true,"gridColor":"#bcc5b8","gridDash":[3,4],"title":null}},
"y":{"field":"d","type":"quantitative","scale":{"domain":[-70,95],"nice":false,"zero":false},
"axis":{"orient":"right","values":[-60,-50,-40,-30,-20,-10,0,10,20,30,40,50,60,70,80,90],"labelExpr":"(datum.value==-50||datum.value==0||datum.value==50)?toString(datum.value):''","grid":false,"domainColor":"#000000","tickColor":"#000000","tickSize":4,"labelAlign":"right","labelPadding":28,"labelFontSize":9.5,"labelColor":"#000000","labelBaseline":"middle","labelFlush":false,"labelOverlap":false,"title":null}}
}},
{"data":{"values":[{}]},"mark":{"type":"rule","color":"#0000ff","strokeWidth":1.5},
"encoding":{"y":{"datum":0,"type":"quantitative"}}},
{"data":{"name":"years"},"mark":{"type":"text","fontSize":12.5,"align":"left","baseline":"top","dx":1,"dy":1,"color":"#000000"},
"encoding":{"x":{"field":"yr","type":"quantitative","title":null},"y":{"datum":-70,"type":"quantitative"},"text":{"field":"lab"}}},
{"data":{"values":[{}]},"mark":{"type":"text","text":"prozentualer Abstand zur 200-Tage-Linie","fontSize":10.5,"align":"left","baseline":"alphabetic","color":"#000000"},
"encoding":{"x":{"datum":1991.889,"type":"quantitative"},"y":{"datum":57.1,"type":"quantitative"}}}
]}
]
}
